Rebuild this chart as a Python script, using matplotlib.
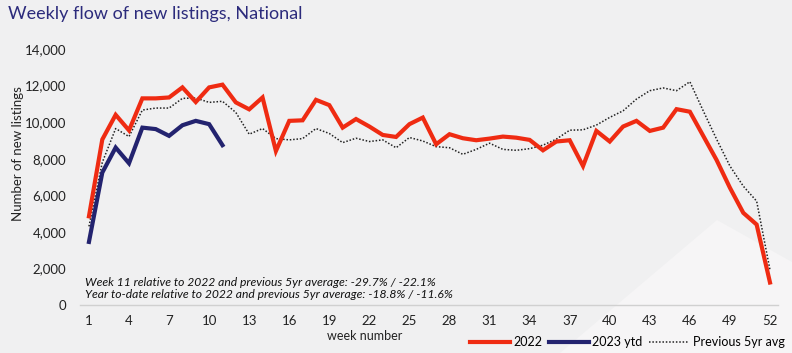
import matplotlib
matplotlib.use("Agg")
import matplotlib.pyplot as plt
from matplotlib.patches import Polygon

# --- weekly flow of new listings, national ---

weeks = list(range(1, 53))
x_ticks = list(range(1, 53, 3))

listings_2022 = [4850, 9050, 10400, 9550, 11300, 11300, 11350, 11900, 11100, 11900,
                 12050, 11080, 10700, 11350, 8420, 10070, 10100, 11220, 10930, 9700,
                 10170, 9760, 9300, 9190, 9890, 10250, 8790, 9340, 9120, 9010,
                 9100, 9210, 9150, 9030, 8460, 8940, 9010, 7600, 9520, 8940,
                 9760, 10070, 9520, 9700, 10710, 10570, 9250, 7930, 6410, 5040,
                 4400, 1230]

listings_2023 = [3450, 7240, 8610, 7750, 9700, 9620, 9250, 9830, 10070, 9890, 8740]

prev_5yr_avg = [4300, 7800, 9650, 9210, 10660, 10770, 10770, 11300, 11320, 11080,
                11140, 10530, 9340, 9650, 9100, 9030, 9100, 9650, 9380, 8880,
                9120, 8940, 9030, 8600, 9160, 8970, 8660, 8600, 8240, 8510,
                8850, 8510, 8460, 8550, 8740, 9070, 9560, 9580, 9840, 10260,
                10620, 11260, 11720, 11870, 11720, 12210, 10620, 9070, 7600, 6500,
                5680, 1920]

notes = ["Week 11 relative to 2022 and previous 5yr average: -29.7% / -22.1%",
         "Year to-date relative to 2022 and previous 5yr average: -18.8% / -11.6%"]

RED = "#ef2b12"
NAVY = "#23236f"
TITLE = "#2c2b7c"

plt.rcParams["font.family"] = ["Lato", "DejaVu Sans"]

fig = plt.figure(figsize=(7.92, 3.53), dpi=100)
fig.patch.set_facecolor("#f0f0f1")

# light background shape in the lower right (behind the chart)
fig.patches.append(Polygon([(560 / 792, 0), (717 / 792, 1 - 220 / 353),
                            (792 / 792, 1 - 262 / 353), (1, 0)],
                           closed=True, transform=fig.transFigure,
                           facecolor="#f6f5f6", edgecolor="none", zorder=-5))

ax = fig.add_axes([80 / 792, 1 - 305 / 353, 698 / 792, 256 / 353])
ax.set_facecolor("none")
ax.set_zorder(1)

ax.plot(weeks, prev_5yr_avg, color="#222222", linewidth=1.1, linestyle=(0, (1, 1.2)),
        label="Previous 5yr avg", zorder=2)
ax.plot(weeks, listings_2022, color=RED, linewidth=3.0, label="2022", zorder=3,
        solid_joinstyle="miter")
ax.plot(weeks[:len(listings_2023)], listings_2023, color=NAVY, linewidth=3.0,
        label="2023 ytd", zorder=4, solid_joinstyle="miter")

ax.set_xlim(0.33, 52.6)
ax.set_ylim(0, 14000)
ax.set_xticks(x_ticks)
ax.set_yticks(range(0, 14001, 2000))
ax.set_yticklabels([f"{v:,}" for v in range(0, 14001, 2000)])
ax.tick_params(axis="both", length=0, labelsize=9.5, colors="#222222")
ax.tick_params(axis="x", pad=7)
ax.tick_params(axis="y", pad=10)

for side in ["top", "right", "left"]:
    ax.spines[side].set_visible(False)
ax.spines["bottom"].set_color("#d0d0d0")
ax.spines["bottom"].set_linewidth(1.0)

ax.set_ylabel("Number of new listings", fontsize=9.5, color="#222222")
ax.yaxis.set_label_coords(-0.08, 0.59)

fig.text(365 / 792, 1 - 336 / 353, "week number", fontsize=9, color="#222222",
         ha="center", va="center")

fig.text(85 / 792, 1 - 282 / 353, notes[0], fontsize=8.7, style="italic",
         color="#111111", va="center")
fig.text(85 / 792, 1 - 295 / 353, notes[1], fontsize=8.7, style="italic",
         color="#111111", va="center")

fig.text(8 / 792, 1 - 14 / 353, "Weekly flow of new listings, National",
         fontsize=13, color=TITLE, va="center")

handles, labels = ax.get_legend_handles_labels()
order = [1, 2, 0]
fig.legend([handles[i] for i in order], [labels[i] for i in order],
           loc="center right", bbox_to_anchor=(1.0, 1 - 342 / 353), ncol=3,
           frameon=False, fontsize=9, handlelength=3.2, handletextpad=0.3,
           columnspacing=0.5, borderaxespad=0.2)

fig.savefig("out.png", dpi=100, facecolor=fig.get_facecolor())
